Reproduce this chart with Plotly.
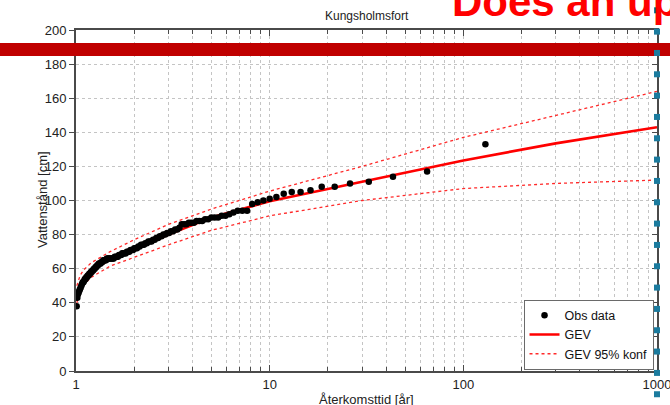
import plotly.graph_objects as go

# ---------------- data ----------------
obs_return_period = [
    130, 65, 43.33, 32.5, 26, 21.67, 18.57, 16.25, 14.44, 13,
    11.82, 10.83, 10, 9.286, 8.667, 8.125, 7.647, 7.222, 6.842, 6.5,
    6.190, 5.909, 5.652, 5.417, 5.2, 5, 4.815, 4.643, 4.483, 4.333,
    4.194, 4.0625, 3.939, 3.824, 3.714, 3.611, 3.514, 3.421, 3.333, 3.25,
    3.171, 3.095, 3.023, 2.955, 2.889, 2.826, 2.766, 2.708, 2.653, 2.6,
    2.549, 2.5, 2.453, 2.407, 2.364, 2.321, 2.281, 2.241, 2.203, 2.167,
    2.131, 2.097, 2.063, 2.031, 2, 1.970, 1.940, 1.912, 1.884, 1.857,
    1.831, 1.806, 1.781, 1.757, 1.733, 1.711, 1.688, 1.667, 1.646, 1.625,
    1.605, 1.585, 1.566, 1.548, 1.529, 1.512, 1.494, 1.477, 1.461, 1.444,
    1.429, 1.413, 1.398, 1.383, 1.368, 1.354, 1.340, 1.327, 1.313, 1.3,
    1.287, 1.275, 1.262, 1.250, 1.238, 1.226, 1.215, 1.204, 1.193, 1.182,
    1.171, 1.161, 1.150, 1.140, 1.130, 1.121, 1.111, 1.102, 1.092, 1.083,
    1.074, 1.066, 1.057, 1.048, 1.040, 1.032, 1.024, 1.016, 1.008,
]
obs_level = [
    133, 117, 114, 111, 110, 108, 108, 106, 105, 105,
    104, 102, 101, 100, 99, 98, 94, 94, 94, 93,
    92, 91, 91, 90, 90, 90, 89, 89, 88, 88,
    88, 87, 87, 87, 86, 86, 86, 84, 83, 83,
    82, 82, 81, 81, 80, 80, 79, 79, 78, 78,
    77, 77, 76, 76, 76, 75, 75, 74, 74, 74,
    73, 73, 72, 72, 72, 71, 71, 71, 70, 70,
    70, 69, 69, 69, 69, 68, 68, 68, 67, 67,
    67, 67, 66, 66, 66, 66, 66, 66, 66, 66,
    65, 65, 65, 65, 64, 64, 63, 63, 63, 62,
    62, 61, 61, 60, 60, 59, 59, 58, 58, 57,
    57, 56, 56, 55, 55, 54, 54, 53, 52, 52,
    51, 50, 49, 48, 47, 46, 45, 43, 38,
]

gev_return_period = [1.01, 1.05, 1.1, 1.2, 1.5, 2, 3, 5, 10, 30, 100, 300, 1000]
gev_level = [43, 51, 55, 59, 65.5, 71.5, 80, 90, 99.5, 111, 123.5, 133.5, 143]
gev_upper = [50, 56, 59.5, 63.5, 70, 77, 86, 95, 105.5, 120, 137, 150, 164]
gev_lower = [40, 47, 51, 55, 61.5, 66.7, 74, 82.5, 91, 100, 107, 110, 112]

x_tick_vals = [1, 10, 100, 1000]
x_tick_text = ["1", "10", "100", "1000"]
x_minor_vals = [2, 3, 4, 5, 6, 7, 8, 9, 20, 30, 40, 50, 60, 70, 80, 90,
                200, 300, 400, 500, 600, 700, 800, 900]
y_tick_vals = [0, 20, 40, 60, 80, 100, 120, 140, 160, 180, 200]

title_text = "Kungsholmsfort"
x_label = "Återkomsttid [år]"
y_label = "Vattenstånd [cm]"
slide_heading = "Does an up"

# ---------------- layout geometry ----------------
W, H = 670, 405
L, R, T, B = 76, 13, 30, 34
PW, PH = W - L - R, H - T - B


def px2x(px):
    return (px - L) / PW


def py2y(py):
    return (H - B - py) / PH


FONT = "Arial, Liberation Sans, sans-serif"
AXC = "#4a4a4a"
GRID = "#c4c4c4"

fig = go.Figure()

fig.add_trace(go.Scatter(
    x=gev_return_period, y=gev_upper, mode="lines", name="GEV 95% konf",
    line=dict(color="#ff2a2a", width=1.3, dash="dot"), legendrank=3))
fig.add_trace(go.Scatter(
    x=gev_return_period, y=gev_lower, mode="lines", name="GEV 95% konf",
    line=dict(color="#ff2a2a", width=1.3, dash="dot"), showlegend=False))
fig.add_trace(go.Scatter(
    x=gev_return_period, y=gev_level, mode="lines", name="GEV",
    line=dict(color="#ff0000", width=2.6), legendrank=2))
fig.add_trace(go.Scatter(
    x=obs_return_period, y=obs_level, mode="markers", name="Obs data",
    marker=dict(color="black", size=6.5), legendrank=1))
# right-hand axis carrying inward ticks (MATLAB box style)
fig.add_trace(go.Scatter(x=[None], y=[None], yaxis="y2", showlegend=False,
                         hoverinfo="skip"))

fig.update_layout(
    width=W, height=H,
    margin=dict(l=L, r=R, t=T, b=B, pad=0, autoexpand=False),
    paper_bgcolor="white", plot_bgcolor="white",
    font=dict(family=FONT, size=13, color="#222222"),
    showlegend=True,
    legend=dict(
        x=0.994, y=0.004, xanchor="right", yanchor="bottom",
        bgcolor="white", bordercolor="#6a6a6a", borderwidth=1,
        font=dict(family=FONT, size=12.5, color="#111111"),
        tracegroupgap=0, itemwidth=30,
    ),
    xaxis=dict(
        type="log", range=[0, 3], automargin=False,
        tickvals=x_tick_vals, ticktext=x_tick_text,
        ticklabeloverflow="allow",
        ticks="inside", ticklen=6, tickcolor=AXC, tickwidth=1,
        showline=True, linecolor=AXC, linewidth=2, mirror="ticks",
        showgrid=True, gridcolor=GRID, griddash="dot", gridwidth=1,
        zeroline=False,
        tickfont=dict(family=FONT, size=13, color="#222222"),
        minor=dict(tickvals=x_minor_vals, ticks="inside", ticklen=4,
                   tickcolor=AXC, showgrid=True, gridcolor=GRID,
                   griddash="dot", gridwidth=1),
    ),
    yaxis=dict(
        range=[0, 200], tickvals=y_tick_vals, automargin=False,
        ticks="outside", ticklen=5, tickcolor=AXC, tickwidth=1,
        showline=True, linecolor=AXC, linewidth=2, mirror=True,
        showgrid=True, gridcolor=GRID, griddash="dot", gridwidth=1,
        zeroline=False,
        tickfont=dict(family=FONT, size=13, color="#222222"),
    ),
    yaxis2=dict(
        range=[0, 200], tickvals=y_tick_vals, overlaying="y", side="right",
        ticks="inside", ticklen=5, tickcolor=AXC, showticklabels=False,
        showgrid=False, showline=False, zeroline=False, automargin=False,
    ),
)

annotations = [
    dict(text=title_text, x=0.5, y=py2y(16), xref="paper", yref="paper",
         xanchor="center", yanchor="middle", showarrow=False,
         font=dict(family=FONT, size=12, color="#222222")),
    dict(text=x_label, x=0.5, y=py2y(399), xref="paper", yref="paper",
         xanchor="center", yanchor="middle", showarrow=False,
         font=dict(family=FONT, size=13, color="#222222")),
    dict(text=y_label, x=px2x(42), y=py2y(200), xref="paper", yref="paper",
         xanchor="center", yanchor="middle", showarrow=False, textangle=-90,
         font=dict(family=FONT, size=13, color="#222222")),
    dict(text="<b>" + slide_heading + "</b>", x=px2x(450), y=py2y(27),
         xref="paper", yref="paper", xanchor="left", yanchor="bottom",
         showarrow=False, font=dict(family=FONT, size=42, color="#ff0000")),
]
fig.update_layout(annotations=annotations)

# slide decorations: red banner and selection handles
shapes = [
    dict(type="rect", xref="paper", yref="paper",
         x0=px2x(-5), x1=px2x(675), y0=py2y(56), y1=py2y(43),
         fillcolor="#c00000", line=dict(width=0), layer="above"),
]
cy = 10.3
while cy < 405:
    shapes.append(dict(type="rect", xref="paper", yref="paper",
                       x0=px2x(654), x1=px2x(660), y0=py2y(cy + 3), y1=py2y(cy - 3),
                       fillcolor="#1b7b9e", line=dict(width=0), layer="above"))
    cy += 21.33
fig.update_layout(shapes=shapes)

fig.write_html(
    "out.html",
    config={"displayModeBar": False},
    post_script="document.body.style.margin='0px';document.body.style.overflow='hidden';",
)
